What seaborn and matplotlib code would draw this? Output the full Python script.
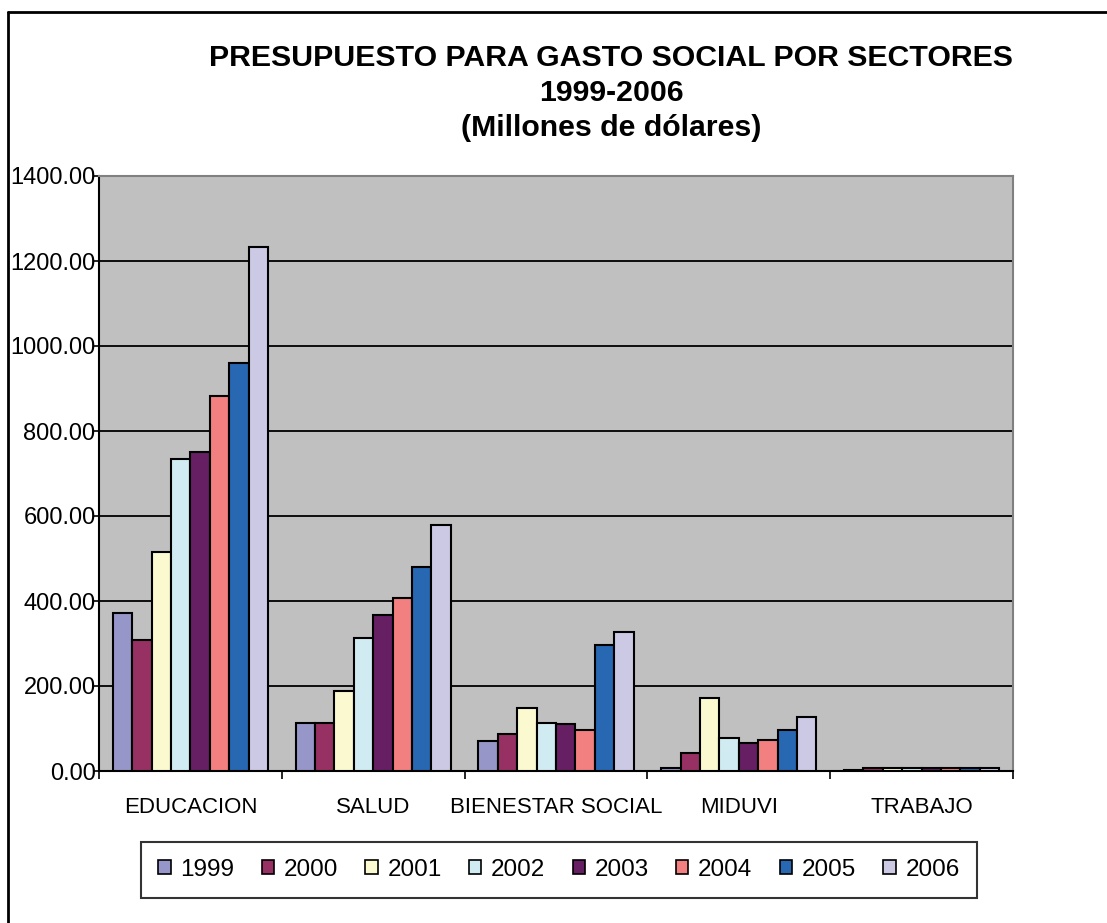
import matplotlib
matplotlib.use("Agg")
import matplotlib.pyplot as plt
import matplotlib.patches as mpatches
from matplotlib.lines import Line2D
import seaborn as sns
import pandas as pd

sectors = ["EDUCACION", "SALUD", "BIENESTAR SOCIAL", "MIDUVI", "TRABAJO"]
years = ["1999", "2000", "2001", "2002", "2003", "2004", "2005", "2006"]
v1999 = [371, 114, 71, 6, 3]
v2000 = [309, 114, 88, 43, 7]
v2001 = [516, 189, 149, 172, 7]
v2002 = [733, 314, 114, 77, 7]
v2003 = [751, 366, 110, 65, 7]
v2004 = [883, 406, 97, 74, 7]
v2005 = [960, 481, 296, 96, 7]
v2006 = [1232, 580, 327, 127, 7]
series = [v1999, v2000, v2001, v2002, v2003, v2004, v2005, v2006]
colors = ["#9696C9", "#983163", "#FBF9D0", "#D0ECF2", "#661F63",
          "#F38080", "#2867B2", "#CCC9E5"]
yticks = [0, 200, 400, 600, 800, 1000, 1200, 1400]

rows = []
for y, vals in zip(years, series):
    for s, v in zip(sectors, vals):
        rows.append({"sector": s, "year": y, "value": v})
df = pd.DataFrame(rows)

sns.set_theme(style="white")
plt.rcParams["font.family"] = ["Liberation Sans", "DejaVu Sans"]
plt.rcParams["text.color"] = "black"
plt.rcParams["xtick.color"] = "black"
plt.rcParams["ytick.color"] = "black"
plt.rcParams["axes.labelcolor"] = "black"

W, H = 1107, 923
fig = plt.figure(figsize=(W / 100, H / 100), dpi=100)
ax = fig.add_axes([99 / W, 1 - 771 / H, (1013 - 99) / W, (771 - 176) / H])
ax.set_facecolor("#C0C0C0")

sns.barplot(data=df, x="sector", y="value", hue="year", order=sectors,
            hue_order=years, palette=colors, width=0.85, ax=ax,
            edgecolor="black", linewidth=1.5, saturation=1, legend=False,
            zorder=3)

ax.set_ylim(0, 1400)
ax.set_xlim(-0.5, len(sectors) - 0.5)
ax.set_yticks(yticks)
ax.set_yticklabels([f"{t:.2f}" for t in yticks], fontsize=17, color="black")
for t in yticks[1:-1]:
    ax.axhline(t, color="black", lw=1.3, zorder=1)
ax.set_xlabel("")
ax.set_ylabel("")
ax.set_xticks(range(len(sectors)))
ax.set_xticklabels(sectors, fontsize=16, color="black")
ax.tick_params(axis="x", which="major", length=0, pad=19)
ax.set_xticks([i - 0.5 for i in range(len(sectors) + 1)], minor=True)
ax.tick_params(axis="x", which="minor", length=6, width=1.2, color="black",
               direction="out", bottom=True)
ax.tick_params(axis="y", length=3.5, width=1.2, color="black",
               direction="out", left=True, pad=-1)

for side in ["left", "bottom"]:
    ax.spines[side].set_color("black")
    ax.spines[side].set_linewidth(1.5)
for side in ["top", "right"]:
    ax.spines[side].set_color("#808080")
    ax.spines[side].set_linewidth(1.5)
    ax.spines[side].set_visible(True)

title_kw = dict(ha="center", va="center", fontsize=21.8, fontweight="bold",
                color="black")
fig.text(611 / W, 1 - 58 / H, "PRESUPUESTO PARA GASTO SOCIAL POR SECTORES",
         **title_kw)
fig.text(611 / W, 1 - 93 / H, "1999-2006", **title_kw)
fig.text(611 / W, 1 - 128 / H, "(Millones de dólares)", **title_kw)

handles = [mpatches.Patch(facecolor=c, edgecolor="black", linewidth=1.2, label=y)
           for c, y in zip(colors, years)]
leg = fig.legend(handles=handles, loc="center", ncol=8,
                 bbox_to_anchor=(559 / W, 1 - 870 / H), fontsize=17.5,
                 frameon=True, fancybox=False, handlelength=0.5,
                 handleheight=0.5, handletextpad=0.4, columnspacing=1.13,
                 borderpad=0.7)
for txt in leg.get_texts():
    txt.set_color("black")
leg.get_frame().set_edgecolor("black")
leg.get_frame().set_linewidth(1.5)

x0 = 8 / W
ytop = 1 - 12 / H
fig.add_artist(Line2D([x0, x0], [0, ytop], color="black", lw=2,
                      transform=fig.transFigure))
fig.add_artist(Line2D([x0, 1], [ytop, ytop], color="black", lw=2,
                      transform=fig.transFigure))

fig.savefig("out.png", dpi=100, facecolor="white")
